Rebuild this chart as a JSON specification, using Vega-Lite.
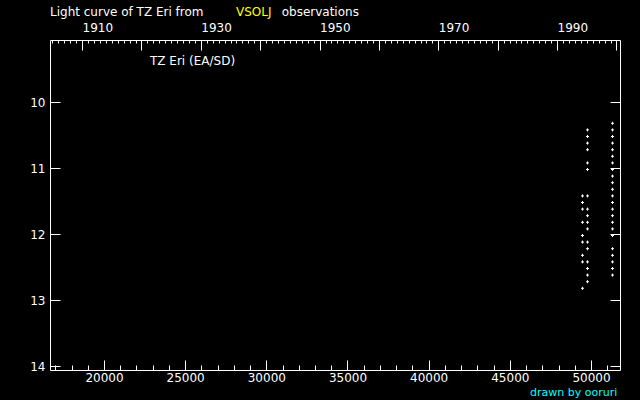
{
  "$schema": "https://vega.github.io/schema/vega-lite/v6.json",
  "width": 570,
  "height": 330,
  "autosize": {"type": "none"},
  "padding": {"left": 50, "top": 40, "right": 20, "bottom": 30},
  "background": "black",
  "config": {
    "view": {"stroke": null},
    "axis": {
      "grid": false,
      "domainColor": "white",
      "domainWidth": 1,
      "tickColor": "white",
      "tickWidth": 1,
      "labelColor": "white",
      "labelFont": "DejaVu Sans",
      "labelFontSize": 12,
      "labelFlush": false,
      "labelOverlap": false,
      "labelBound": false,
      "title": null
    },
    "text": {"font": "DejaVu Sans", "fontSize": 12}
  },
  "resolve": {
    "scale": {"x": "independent", "y": "independent"},
    "axis": {"x": "independent", "y": "independent"}
  },
  "data": {
    "values": [
      {"jd": 49477, "mag": 11.4}, {"jd": 49477, "mag": 11.5}, {"jd": 49477, "mag": 11.6},
      {"jd": 49477, "mag": 11.8}, {"jd": 49477, "mag": 12.0}, {"jd": 49477, "mag": 12.1},
      {"jd": 49477, "mag": 12.3}, {"jd": 49477, "mag": 12.4}, {"jd": 49477, "mag": 12.8},
      {"jd": 49785, "mag": 10.4}, {"jd": 49785, "mag": 10.5}, {"jd": 49785, "mag": 10.6},
      {"jd": 49785, "mag": 10.7}, {"jd": 49785, "mag": 10.9}, {"jd": 49785, "mag": 11.0},
      {"jd": 49785, "mag": 11.4}, {"jd": 49785, "mag": 11.6}, {"jd": 49785, "mag": 11.7},
      {"jd": 49785, "mag": 11.8}, {"jd": 49785, "mag": 11.9}, {"jd": 49785, "mag": 12.1},
      {"jd": 49785, "mag": 12.2}, {"jd": 49785, "mag": 12.4}, {"jd": 49785, "mag": 12.5},
      {"jd": 49785, "mag": 12.6}, {"jd": 49785, "mag": 12.7},
      {"jd": 51325, "mag": 10.3}, {"jd": 51325, "mag": 10.4}, {"jd": 51325, "mag": 10.5},
      {"jd": 51325, "mag": 10.6}, {"jd": 51325, "mag": 10.7}, {"jd": 51325, "mag": 10.8},
      {"jd": 51325, "mag": 10.9}, {"jd": 51325, "mag": 11.0}, {"jd": 51325, "mag": 11.1},
      {"jd": 51325, "mag": 11.2}, {"jd": 51325, "mag": 11.3}, {"jd": 51325, "mag": 11.4},
      {"jd": 51325, "mag": 11.5}, {"jd": 51325, "mag": 11.6}, {"jd": 51325, "mag": 11.7},
      {"jd": 51325, "mag": 11.8}, {"jd": 51325, "mag": 11.9}, {"jd": 51325, "mag": 12.0},
      {"jd": 51325, "mag": 12.2}, {"jd": 51325, "mag": 12.3}, {"jd": 51325, "mag": 12.4},
      {"jd": 51325, "mag": 12.5}, {"jd": 51325, "mag": 12.6}
    ]
  },
  "layer": [
    {
      "mark": {"type": "point", "shape": "M-1,0H1M0,-1V1", "filled": false, "color": "white", "strokeWidth": 1, "size": 9, "opacity": 1, "yOffset": 1.5},
      "encoding": {
        "x": {
          "field": "jd", "type": "quantitative",
          "scale": {"domain": [16673.5, 51786.5], "nice": false, "zero": false},
          "axis": {"orient": "bottom", "values": [20000, 25000, 30000, 35000, 40000, 45000, 50000], "tickSize": -10, "labelPadding": 21.5, "labelBaseline": "alphabetic", "format": "d", "domain": true}
        },
        "y": {
          "field": "mag", "type": "quantitative",
          "scale": {"domain": [9.0606, 14.0606], "reverse": true, "nice": false, "zero": false},
          "axis": {"orient": "left", "values": [10, 11, 12, 13, 14], "tickSize": -10, "labelPadding": 15, "format": "d", "domain": true}
        }
      }
    },
    {
      "mark": {"type": "point", "opacity": 0},
      "encoding": {
        "x": {
          "field": "jd", "type": "quantitative",
          "scale": {"domain": [16673.5, 51786.5], "nice": false, "zero": false},
          "axis": {"orient": "bottom", "values": [17000, 18000, 19000, 20000, 21000, 22000, 23000, 24000, 25000, 26000, 27000, 28000, 29000, 30000, 31000, 32000, 33000, 34000, 35000, 36000, 37000, 38000, 39000, 40000, 41000, 42000, 43000, 44000, 45000, 46000, 47000, 48000, 49000, 50000, 51000], "tickSize": -5, "labels": false, "domain": false}
        },
        "y": {
          "field": "mag", "type": "quantitative",
          "scale": {"domain": [9.0606, 14.0606], "reverse": true, "nice": false, "zero": false},
          "axis": {"orient": "right", "values": [10, 11, 12, 13, 14], "tickSize": -10, "labels": false, "domain": true}
        }
      }
    },
    {
      "data": {"values": [{"label": "Light curve of TZ Eri from"}]},
      "mark": {"type": "text", "align": "left", "baseline": "alphabetic", "color": "white"},
      "encoding": {
        "x": {
          "datum": 1904.6, "type": "quantitative",
          "scale": {"domain": [1904.6, 2000.6], "nice": false, "zero": false},
          "axis": {"orient": "top", "values": [1910, 1920, 1930, 1940, 1950, 1960, 1970, 1980, 1990, 2000], "tickSize": -10, "labelPadding": 18.5, "labelAlign": "left", "labelBaseline": "alphabetic", "format": "d", "labelExpr": "datum.value % 20 == 10 ? datum.label : ''", "domain": true}
        },
        "y": {
          "datum": 8.697, "type": "quantitative",
          "scale": {"domain": [9.0606, 14.0606], "reverse": true, "nice": false, "zero": false},
          "axis": null
        },
        "text": {"field": "label"}
      }
    },
    {
      "data": {"values": [{"label": "VSOLJ"}]},
      "mark": {"type": "text", "align": "left", "baseline": "alphabetic", "color": "#ffff00"},
      "encoding": {
        "x": {
          "datum": 1935.93, "type": "quantitative",
          "scale": {"domain": [1904.6, 2000.6], "nice": false, "zero": false},
          "axis": {"orient": "top", "values": [1905, 1906, 1907, 1908, 1909, 1910, 1911, 1912, 1913, 1914, 1915, 1916, 1917, 1918, 1919, 1920, 1921, 1922, 1923, 1924, 1925, 1926, 1927, 1928, 1929, 1930, 1931, 1932, 1933, 1934, 1935, 1936, 1937, 1938, 1939, 1940, 1941, 1942, 1943, 1944, 1945, 1946, 1947, 1948, 1949, 1950, 1951, 1952, 1953, 1954, 1955, 1956, 1957, 1958, 1959, 1960, 1961, 1962, 1963, 1964, 1965, 1966, 1967, 1968, 1969, 1970, 1971, 1972, 1973, 1974, 1975, 1976, 1977, 1978, 1979, 1980, 1981, 1982, 1983, 1984, 1985, 1986, 1987, 1988, 1989, 1990, 1991, 1992, 1993, 1994, 1995, 1996, 1997, 1998, 1999, 2000], "tickSize": -3, "labels": false, "domain": false}
        },
        "y": {
          "datum": 8.697, "type": "quantitative",
          "scale": {"domain": [9.0606, 14.0606], "reverse": true, "nice": false, "zero": false},
          "axis": null
        },
        "text": {"field": "label"}
      }
    },
    {
      "data": {"values": [{"label": "observations"}]},
      "mark": {"type": "text", "align": "left", "baseline": "alphabetic", "color": "white"},
      "encoding": {
        "x": {
          "datum": 1943.62, "type": "quantitative",
          "scale": {"domain": [1904.6, 2000.6], "nice": false, "zero": false},
          "axis": null
        },
        "y": {
          "datum": 8.697, "type": "quantitative",
          "scale": {"domain": [9.0606, 14.0606], "reverse": true, "nice": false, "zero": false},
          "axis": null
        },
        "text": {"field": "label"}
      }
    },
    {
      "data": {"values": [{"label": "TZ Eri (EA/SD)"}]},
      "mark": {"type": "text", "align": "left", "baseline": "alphabetic", "color": "white"},
      "encoding": {
        "x": {
          "datum": 1921.44, "type": "quantitative",
          "scale": {"domain": [1904.6, 2000.6], "nice": false, "zero": false},
          "axis": null
        },
        "y": {
          "datum": 9.439, "type": "quantitative",
          "scale": {"domain": [9.0606, 14.0606], "reverse": true, "nice": false, "zero": false},
          "axis": null
        },
        "text": {"field": "label"}
      }
    },
    {
      "data": {"values": [{"label": "drawn by ooruri"}]},
      "mark": {"type": "text", "align": "right", "baseline": "alphabetic", "color": "#00ffff", "fontSize": 11},
      "encoding": {
        "x": {
          "datum": 2000.15, "type": "quantitative",
          "scale": {"domain": [1904.6, 2000.6], "nice": false, "zero": false},
          "axis": null
        },
        "y": {
          "datum": 14.454, "type": "quantitative",
          "scale": {"domain": [9.0606, 14.0606], "reverse": true, "nice": false, "zero": false},
          "axis": null
        },
        "text": {"field": "label"}
      }
    }
  ]
}
